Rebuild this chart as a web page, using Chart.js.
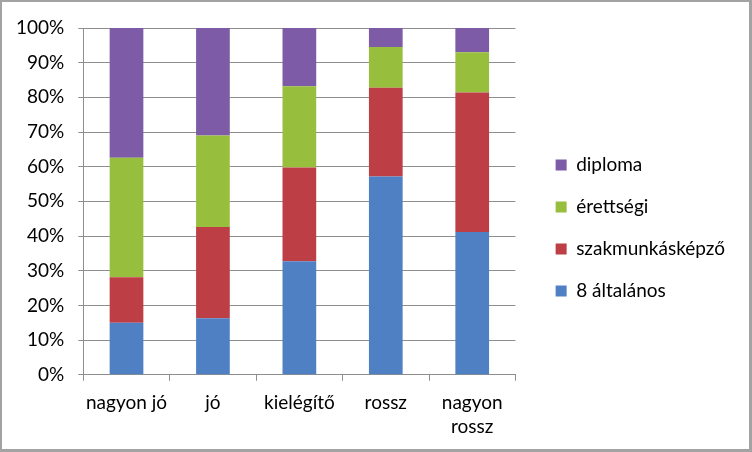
<!DOCTYPE html>
<html>
<head>
<meta charset="utf-8">
<script src="https://cdn.jsdelivr.net/npm/chart.js@4"></script>
<style>
  html, body { margin: 0; padding: 0; background: #fff; }
  #wrap { width: 752px; height: 452px; box-sizing: border-box;
          border-left: 2px solid #a3a3a3; border-top: 2px solid #a3a3a3;
          border-right: 3px solid #a3a3a3; border-bottom: 3px solid #a3a3a3; }
  canvas { display: block; }
</style>
</head>
<body>
<div id="wrap"><canvas id="c" width="747" height="447"></canvas></div>
<script>
const categories = ["nagyon jó", "jó", "kielégítő", "rossz", ["nagyon", "rossz"]];
const seriesNames = ["8 általános", "szakmunkásképző", "érettségi", "diploma"];
const altalanos8 = [15.0, 16.3, 32.7, 57.2, 41.2];
const szakmunkas = [13.1, 26.3, 27.1, 25.6, 40.2];
const erettsegi  = [34.5, 26.4, 23.4, 11.7, 11.6];
const diploma    = [37.4, 31.0, 16.8, 5.5, 7.0];
const yTicks = [0, 10, 20, 30, 40, 50, 60, 70, 80, 90, 100];

const colors = ["#5080C4", "#BE3E46", "#98BE3E", "#7D5BA6"];
const values = [altalanos8, szakmunkas, erettsegi, diploma];
const FONT = "Lato, 'Open Sans', sans-serif";
const GRID = "#8e8e8e";

// raise the legend block slightly (its vertical centring box ends above the x labels)
const legendLift = {
  id: 'legendLift',
  afterLayout(chart) { if (chart.legend) { chart.legend.bottom -= 21; } }
};

new Chart(document.getElementById('c'), {
  type: 'bar',
  data: {
    labels: categories,
    datasets: values.map((v, i) => ({
      label: seriesNames[i],
      data: v,
      backgroundColor: colors[i],
      borderWidth: 0,
      categoryPercentage: 1.0,
      barPercentage: 0.39
    }))
  },
  plugins: [legendLift],
  options: {
    responsive: false,
    animation: false,
    layout: { padding: { top: 26, left: 0, right: 14, bottom: 0 } },
    plugins: {
      tooltip: { enabled: false },
      title: { display: true, text: ' ', position: 'right', weight: 500, padding: 8, font: { size: 1 } },
      legend: {
        position: 'right',
        reverse: true,
        maxWidth: 300,
        labels: {
          boxWidth: 11, boxHeight: 11, padding: 23,
          color: '#000',
          font: { family: FONT, size: 19 }
        }
      }
    },
    scales: {
      x: {
        stacked: true,
        offset: true,
        grid: { display: true, drawOnChartArea: false, offset: true, tickLength: 6, color: GRID, lineWidth: 1 },
        border: { display: true, color: GRID, width: 1 },
        ticks: { color: '#000', padding: 10, maxRotation: 0, font: { family: FONT, size: 19, lineHeight: 1.27 } }
      },
      y: {
        stacked: true,
        min: 0, max: 100,
        afterBuildTicks: (s) => { s.ticks = yTicks.map(v => ({ value: v })); },
        grid: { color: GRID, lineWidth: 1, tickLength: 5 },
        border: { display: true, color: GRID, width: 1 },
        ticks: { color: '#000', padding: 14, font: { family: FONT, size: 19 }, callback: (v) => v + '%' }
      }
    }
  }
});
</script>
</body>
</html>
